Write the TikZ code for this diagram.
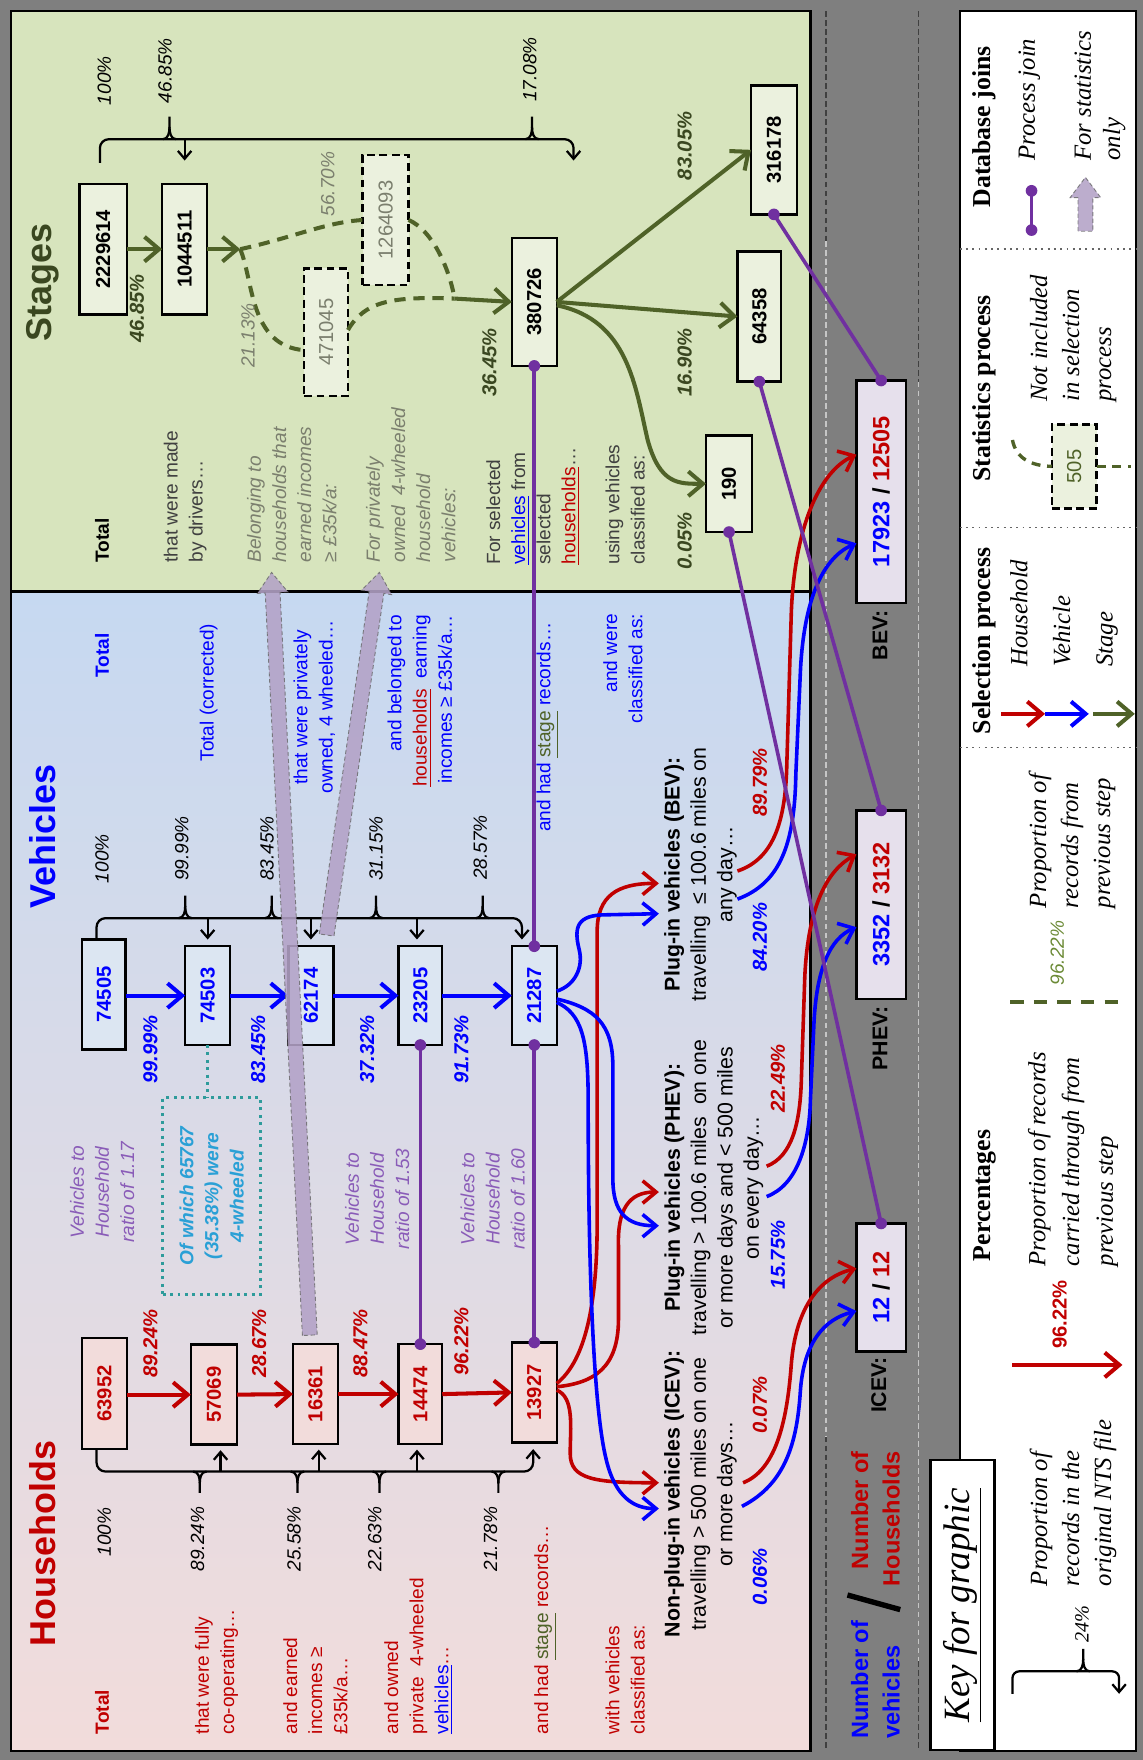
\documentclass[tikz,border=0pt]{standalone}
\usepackage{graphicx}
\usepackage{fontspec}
\setmainfont{Liberation Sans}
\newfontfamily\keyserif{Liberation Serif}
\usetikzlibrary{arrows.meta,calc}

% colours
\definecolor{framegray}{HTML}{7F7F7F}
\definecolor{stagebg}{HTML}{D7E4BD}
\definecolor{stagebox}{HTML}{EBF1DE}
\definecolor{stgreen}{HTML}{4F6228}
\definecolor{stdark}{HTML}{3A4720}
\definecolor{stgray}{HTML}{7B7F6E}
\definecolor{txtgray}{HTML}{404040}
\definecolor{vehtop}{HTML}{C6D9F1}
\definecolor{vehmid}{HTML}{E2DEEC}
\definecolor{hhbottom}{HTML}{F2DCDB}
\definecolor{vehbox}{HTML}{DCE6F2}
\definecolor{hhbox}{HTML}{F2DCDB}
\definecolor{hhred}{HTML}{C00000}
\definecolor{vblue}{HTML}{0000FF}
\definecolor{joinpurple}{HTML}{7030A0}
\definecolor{statpurple}{HTML}{B3A2C7}
\definecolor{ratiopurple}{HTML}{8A5CB8}
\definecolor{tealedge}{HTML}{2E9B9B}
\definecolor{tealtext}{HTML}{2AA0D6}
\definecolor{classbox}{HTML}{E6E0EC}
\definecolor{keygreen}{HTML}{6B8A35}

% type sizes
\newcommand\desc{\fontsize{8.5}{11.2}\selectfont}
\newcommand\ttl{\fontsize{16}{18}\selectfont\bfseries}
\newcommand\boxnum{\fontsize{9}{10}\selectfont\bfseries}
\newcommand\cls{\fontsize{9.5}{11.75}\selectfont}
\newcommand\bignum{\fontsize{10.5}{12}\selectfont\bfseries}
\newcommand\keytxt{\keyserif\itshape\fontsize{11}{14.25}\selectfont}
\newcommand\keyhead{\keyserif\bfseries\fontsize{11.5}{13}\selectfont}

\tikzset{
  ttlnode/.style={rotate=90, font=\ttl},
  dtext/.style={rotate=90, font=\desc, align=left},
  pct/.style={rotate=90, font=\desc\itshape},
  bpct/.style={rotate=90, font=\fontsize{9}{10}\selectfont\bfseries\itshape},
  bx/.style 2 args={minimum width=#1, minimum height=#2, draw=black, line width=1.1pt},
  sbox/.style={fill=stagebox, font=\boxnum},
  dbox/.style={fill=stagebox, dash pattern=on 3.5pt off 2pt, font=\fontsize{9}{10}\selectfont, text=stgray},
  vbox/.style={fill=vehbox, font=\boxnum, text=vblue},
  hbox/.style={fill=hhbox, font=\boxnum, text=hhred},
  cbox/.style={fill=classbox, font=\bignum},
  bracel/.style={draw=black, line width=1pt},
  bracetip/.style={bracel, -{Straight Barb[length=3.5pt,width=6pt]}},
  garrow/.style={draw=stgreen, line width=1.8pt, -{Straight Barb[length=6.5pt,width=11pt]}},
  gdash/.style={draw=stgreen, line width=1.8pt, dash pattern=on 5pt off 3.5pt},
  barrow/.style={draw=vblue, line width=1.8pt, -{Straight Barb[length=6.5pt,width=11pt]}},
  rarrow/.style={draw=hhred, line width=1.8pt, -{Straight Barb[length=6.5pt,width=11pt]}},
  bcurve/.style={draw=vblue, line width=1.6pt, -{Straight Barb[length=6pt,width=10pt]}},
  rcurve/.style={draw=hhred, line width=1.6pt, -{Straight Barb[length=6pt,width=10pt]}},
  joinline/.style={draw=joinpurple, line width=1.6pt},
  statarrow/.style={fill=statpurple, fill opacity=0.88, draw=black!60, draw opacity=0.8, line width=0.4pt, dash pattern=on 1.8pt off 1.2pt},
  stripdark/.style={draw=black!75, line width=0.6pt, dash pattern=on 2.5pt off 1.5pt},
  striplight/.style={draw=gray!45, line width=0.6pt, dash pattern=on 2.5pt off 1.5pt},
}

% broad "for statistics" arrow from #1 to #2
\newcommand\fatarrow[2]{%
  \coordinate (fa-base) at ($(#2)!9pt!(#1)$);
  \draw[statarrow] ($(#1)!3.3pt!90:(#2)$) -- ($(fa-base)!3.3pt!-90:(#1)$)
    -- ($(fa-base)!6.8pt!-90:(#1)$) -- (#2) -- ($(fa-base)!6.8pt!90:(#1)$)
    -- ($(fa-base)!3.3pt!90:(#1)$) -- ($(#1)!3.3pt!-90:(#2)$) -- cycle;}

% small cusp on a brace line: x, y of the line, signed stem length
\newcommand\cusp[3]{%
  \draw[bracel] (#1-6,#2) .. controls (#1-1,#2) and (#1,{#2+0.3*(#3)}) .. (#1,{#2+0.55*(#3)}) -- (#1,{#2+(#3)});
  \draw[bracel] (#1+6,#2) .. controls (#1+1,#2) and (#1,{#2+0.3*(#3)}) .. (#1,{#2+0.55*(#3)});}

\begin{document}
\begin{tikzpicture}[x=0.5pt, y=-0.5pt, every node/.style={inner sep=0pt, outer sep=0pt}]
\useasboundingbox (0,0) rectangle (1018,1568);

% ---------- backgrounds ----------
\fill[framegray] (0,0) rectangle (1018,1568);
\filldraw[fill=stagebg, draw=black, line width=1pt] (10,10) rectangle (722,527);
\shade[top color=vehtop, middle color=vehmid, bottom color=hhbottom] (10,527) rectangle (722,1560);
\draw[black, line width=1pt] (10,527) rectangle (722,1560);
\filldraw[fill=white, draw=black, line width=1pt] (855,10) rectangle (1012,1560);

% dashed guides in the grey strip
\draw[stripdark] (736,10) -- (736,215);
\draw[striplight] (736,215) -- (736,1280);
\draw[stripdark] (736,1280) -- (736,1560);
\draw[stripdark] (818,10) -- (818,340);
\draw[striplight] (818,340) -- (818,1480);
\draw[stripdark] (818,1480) -- (818,1560);

% key separators
\draw[black!60, line width=0.8pt, dotted] (855,222) -- (1012,222);
\draw[black!60, line width=0.8pt, dotted] (855,470) -- (1012,470);
\draw[black!60, line width=0.8pt, dotted] (855,666) -- (1012,666);

% ---------- titles ----------
\node[ttlnode, text=stdark] (tStages) at (38,252) {Stages};
\node[ttlnode, text=vblue] (tVeh) at (38,745) {Vehicles};
\node[ttlnode, text=hhred] (tHH) at (38,1375) {Households};

% ---------- stage boxes ----------
\node[bx={21pt}{58pt}, sbox] (s1) at (92,222) {\rotatebox{90}{2229614}};
\node[bx={20pt}{58pt}, sbox] (s2) at (164.5,222) {\rotatebox{90}{1044511}};
\node[bx={20.5pt}{58pt}, dbox] (d1) at (343.5,196) {\rotatebox{90}{1264093}};
\node[bx={19.5pt}{57pt}, dbox] (d2) at (290.5,296) {\rotatebox{90}{471045}};
\node[bx={20pt}{57pt}, sbox] (s5) at (476,269) {\rotatebox{90}{380726}};
\node[bx={19.5pt}{58pt}, sbox] (s6) at (676.5,282) {\rotatebox{90}{64358}};
\node[bx={20.5pt}{57.5pt}, sbox] (s7) at (689.5,133.5) {\rotatebox{90}{316178}};
\node[bx={20.5pt}{43pt}, sbox] (s8) at (649.5,431) {\rotatebox{90}{190}};

% ---------- vehicle boxes ----------
\node[bx={19.5pt}{49pt}, vbox] (v1) at (92.5,886) {\rotatebox{90}{74505}};
\node[bx={20pt}{44pt}, vbox] (v2) at (185,887) {\rotatebox{90}{74503}};
\node[bx={20pt}{44pt}, vbox] (v3) at (277,887) {\rotatebox{90}{62174}};
\node[bx={19.5pt}{44pt}, vbox] (v4) at (374.5,887) {\rotatebox{90}{23205}};
\node[bx={20pt}{44pt}, vbox] (v5) at (476,887) {\rotatebox{90}{21287}};

% ---------- household boxes ----------
\node[bx={20pt}{49.5pt}, hbox] (h1) at (93,1241.5) {\rotatebox{90}{63952}};
\node[bx={20.5pt}{44.5pt}, hbox] (h2) at (190.5,1242.5) {\rotatebox{90}{57069}};
\node[bx={20pt}{44.5pt}, hbox] (h3) at (281,1242) {\rotatebox{90}{16361}};
\node[bx={19.5pt}{44.5pt}, hbox] (h4) at (374.5,1242) {\rotatebox{90}{14474}};
\node[bx={20pt}{44.5pt}, hbox] (h5) at (476,1240.5) {\rotatebox{90}{13927}};

% ---------- vehicle classes (grey strip) ----------
\node[bx={22pt}{57pt}, cbox] (icev) at (785,1147) {\rotatebox{90}{\textcolor{vblue}{12} / \textcolor{hhred}{12}}};
\node[bx={22pt}{84pt}, cbox] (phev) at (785,806) {\rotatebox{90}{\textcolor{vblue}{3352} / \textcolor{hhred}{3132}}};
\node[bx={22pt}{99pt}, cbox] (bev) at (785,438) {\rotatebox{90}{\textcolor{vblue}{17923} / \textcolor{hhred}{12505}}};
\node[rotate=90, font=\fontsize{9.5}{11}\selectfont\bfseries] (lI) at (783,1234) {ICEV:};
\node[rotate=90, font=\fontsize{9.5}{11}\selectfont\bfseries] (lP) at (784,925) {PHEV:};
\node[rotate=90, font=\fontsize{9.5}{11}\selectfont\bfseries] (lB) at (784,566) {BEV:};
\node[rotate=90, font=\fontsize{10.5}{14}\selectfont\bfseries, text=vblue, align=left, anchor=west] (nv) at (780,1549) {Number of\\vehicles};
\node[rotate=90, font=\fontsize{10.5}{14}\selectfont\bfseries, text=hhred, align=right, anchor=east] (nh) at (780,1293) {Number of\\Households};
\coordinate (sl1) at (755,1421);
\coordinate (sl2) at (802,1434);
\draw[line width=2.4pt] (sl1) -- (sl2);

% ---------- braces ----------
\coordinate (sbr) at (0,124);
\draw[bracetip, rounded corners=4pt] (89,145) -- (89,124) -- (511,124) -- (511,143);
\draw[bracetip] (s2.north |- sbr) -- ($(s2.north)+(0,-21)$);
\cusp{151}{124}{-20}
\cusp{474}{124}{-20}

\draw[bracetip, rounded corners=4pt] (86,836) -- (86,818) -- (465,818) -- (465,837);
\draw[bracetip] ($(v2.north)+(0,-25)$) -- ($(v2.north)+(0,-6)$);
\draw[bracetip] ($(v3.north)+(0,-25)$) -- ($(v3.north)+(0,-6)$);
\draw[bracetip] ($(v4.north)+(-3,-25)$) -- ($(v4.north)+(-3,-6)$);
\cusp{165}{818}{-20}
\cusp{242}{818}{-20}
\cusp{335}{818}{-20}
\cusp{430}{818}{-20}

\draw[bracetip, rounded corners=4pt] (86,1292) -- (86,1311) -- (475,1311) -- (475,1291);
\draw[bracetip] ($(h2.south)+(6,24)$) -- ($(h2.south)+(6,5)$);
\draw[bracetip] ($(h3.south)+(3,24)$) -- ($(h3.south)+(3,5)$);
\draw[bracetip] ($(h4.south)+(-3,24)$) -- ($(h4.south)+(-3,5)$);
\cusp{178}{1311}{19}
\cusp{265}{1311}{19}
\cusp{338}{1311}{19}
\cusp{444}{1311}{19}

% ---------- stage flow ----------
\draw[garrow] (s1.east) -- (s2.west);
\coordinate (fork) at (214,222);
\coordinate (merge) at (405,266);
\draw[garrow] (s2.east) -- (fork);
\draw[gdash] (fork) .. controls (260,212) and (290,198) .. (d1.west);
\draw[gdash] (fork) .. controls (226,250) and (222,308) .. ($(d2.west)+(0,16)$);
\draw[gdash] ($(d2.east)+(0,-2)$) .. controls (325,268) and (350,264) .. (merge);
\draw[gdash] (d1.east) .. controls (385,205) and (400,238) .. (merge);
\draw[garrow] (merge) -- (s5.west);
\draw[garrow] (s5.east) -- (s7.west);
\draw[garrow] (s5.east) -- (s6.west);
\draw[garrow] ($(s5.east)+(0,3)$) .. controls (560,285) and (566,345) .. (577,392) .. controls (588,432) and (605,431) .. (s8.west);

% ---------- vehicle and household flow ----------
\draw[barrow] (v1.east |- v2) -- (v2.west);
\draw[barrow] (v2.east) -- (v3.west);
\draw[barrow] (v3.east) -- (v4.west);
\draw[barrow] (v4.east) -- (v5.west);
\draw[rarrow] (h1.east |- h2) -- (h2.west);
\draw[rarrow] (h2.east) -- (h3.west);
\draw[rarrow] (h3.east) -- (h4.west);
\draw[rarrow] (h4.east) -- (h5.west);

% teal note on 4-wheeled vehicles
\node[draw=tealedge, line width=1.3pt, dotted, minimum width=43.5pt, minimum height=87.5pt] (teal) at (188.5,1065.5) {};
\node[rotate=90, align=center, font=\desc\bfseries\itshape, text=tealtext] (tealtxt) at (teal.center) {Of which 65767\\(35.38\%) were\\4-wheeled};
\draw[draw=tealedge, line width=1.3pt, dotted] (v2.south) -- (v2.south |- teal.north);

% ---------- stage text ----------
\node[dtext, font=\desc\bfseries, anchor=west] (tS0) at (91,501) {Total};
\node[dtext, text=txtgray, anchor=west] (tS1) at (165,501) {that were made\\by drivers\ldots};
\node[dtext, font=\desc\itshape, text=stgray, anchor=west] (tS2) at (260,501) {Belonging to\\households that\\earned incomes\\≥ £35k/a:};
\node[dtext, font=\desc\itshape, text=stgray, anchor=west] (tS3) at (366,501) {For privately\\owned\ \ 4-wheeled\\household\\vehicles:};
\node[dtext, text=txtgray, anchor=west] (tS4) at (475,503) {For selected\\\textcolor{vblue}{\underline{vehicles}} from\\selected\\\textcolor{hhred}{\underline{households}}\ldots};
\node[dtext, text=txtgray, anchor=west] (tS5) at (557,503) {using vehicles\\classified as:};

\node[pct] (ps1) at (93,72) {100\%};
\node[pct] (ps2) at (147,63) {46.85\%};
\node[pct] (ps3) at (472,62) {17.08\%};
\node[bpct, text=stdark] (ps4) at (122,275) {46.85\%};
\node[pct, text=stgray] (ps5) at (221,299) {21.13\%};
\node[pct, text=stgray] (ps6) at (292,164) {56.70\%};
\node[bpct, text=stdark] (ps7) at (436,323) {36.45\%};
\node[bpct, text=stdark] (ps8) at (610,130) {83.05\%};
\node[bpct, text=stdark] (ps9) at (610,323) {16.90\%};
\node[bpct, text=stdark] (ps10) at (610,482) {0.05\%};

% ---------- vehicle text ----------
\node[rotate=90, font=\desc\bfseries, text=vblue] (tV0) at (91,584) {Total};
\node[rotate=90, font=\desc, text=vblue] (tV1) at (186,617) {Total (corrected)};
\node[rotate=90, font=\desc, text=vblue, align=center] (tV2) at (280,630) {that were privately\\owned, 4 wheeled\ldots};
\node[rotate=90, font=\desc, text=vblue, align=right, anchor=east] (tV3) at (374,548) {and belonged to\\\textcolor{hhred}{\underline{households}}\ \ earning\\incomes ≥ £35k/a\ldots};
\node[rotate=90, font=\desc, text=vblue] (tV4) at (488,648) {and had \textcolor{stgreen}{\underline{stage}} records\ldots};
\node[rotate=90, font=\desc, text=vblue, align=right, anchor=east] (tV5) at (555,547) {and were\\classified as:};

\node[pct] (pv1) at (91,765) {100\%};
\node[pct] (pv2) at (162,756) {99.99\%};
\node[pct] (pv3) at (238,756) {83.45\%};
\node[pct] (pv4) at (335,756) {31.15\%};
\node[pct] (pv5) at (428,755) {28.57\%};
\node[bpct, text=vblue] (pv6) at (134,935) {99.99\%};
\node[bpct, text=vblue] (pv7) at (230,935) {83.45\%};
\node[bpct, text=vblue] (pv8) at (327,935) {37.32\%};
\node[bpct, text=vblue] (pv9) at (411,935) {91.73\%};

\node[rotate=90, font=\desc\itshape, text=ratiopurple, align=center] (r1) at (91,1062) {Vehicles to\\Household\\ratio of 1.17};
\node[rotate=90, font=\desc\itshape, text=ratiopurple, align=center] (r2) at (336,1068) {Vehicles to\\Household\\ratio of 1.53};
\node[rotate=90, font=\desc\itshape, text=ratiopurple, align=center] (r3) at (439,1068) {Vehicles to\\Household\\ratio of 1.60};

% ---------- household text ----------
\node[dtext, font=\desc\bfseries, text=hhred, anchor=west] (tH0) at (91,1545) {Total};
\node[dtext, text=hhred, anchor=west] (tH1) at (193,1545) {that were fully\\co-operating\ldots};
\node[dtext, text=hhred, anchor=west] (tH2) at (281,1545) {and earned\\incomes ≥\\£35k/a\ldots};
\node[dtext, text=hhred, anchor=west] (tH3) at (373,1545) {and owned\\private\ \ 4-wheeled\\\textcolor{vblue}{\underline{vehicles}}\ldots};
\node[dtext, text=hhred, anchor=west] (tH4) at (486,1545) {and had \textcolor{stgreen}{\underline{stage}} records\ldots};
\node[dtext, text=hhred, anchor=west] (tH5) at (557,1545) {with vehicles\\classified as:};

\node[pct] (ph1) at (93,1365) {100\%};
\node[pct] (ph2) at (176,1371) {89.24\%};
\node[pct] (ph3) at (262,1371) {25.58\%};
\node[pct] (ph4) at (334,1371) {22.63\%};
\node[pct] (ph5) at (437,1371) {21.78\%};
\node[bpct, text=hhred] (ph6) at (134,1197) {89.24\%};
\node[bpct, text=hhred] (ph7) at (231,1197) {28.67\%};
\node[bpct, text=hhred] (ph8) at (321,1197) {88.47\%};
\node[bpct, text=hhred] (ph9) at (411,1195) {96.22\%};

% ---------- class headings ----------
\node[rotate=90, font=\cls, align=center] (cI) at (624,1331) {\textbf{Non-plug-in vehicles (ICEV):}\\travelling > 500 miles on one\\or more days\ldots};
\node[rotate=90, font=\cls, align=center] (cP) at (636,1058) {\textbf{Plug-in vehicles (PHEV):}\\travelling > 100.6 miles\ \ on one\\or more days and < 500 miles\\on every day\ldots};
\node[rotate=90, font=\cls, align=center] (cB) at (624,779) {\textbf{Plug-in vehicles (BEV):}\\travelling\ \ ≤ 100.6 miles on\\any day\ldots};

\node[bpct, text=hhred] (l1) at (677,1252) {0.07\%};
\node[bpct, text=vblue] (l2) at (677,1405) {0.06\%};
\node[bpct, text=hhred] (l3) at (693,961) {22.49\%};
\node[bpct, text=vblue] (l4) at (693,1118) {15.75\%};
\node[bpct, text=hhred] (l5) at (677,697) {89.79\%};
\node[bpct, text=vblue] (l6) at (677,835) {84.20\%};

% ---------- statistics-only joins ----------
\coordinate (fa1s) at ($(h3.north)+(-5,-8)$);
\coordinate (fa1e) at (242,510);
\fatarrow{fa1s}{fa1e}
\coordinate (fa2s) at ($(v3.north)+(14,-10)$);
\coordinate (fa2e) at (338,510);
\fatarrow{fa2s}{fa2e}

% ---------- classification curves ----------
\coordinate (icevR) at (587,1321);
\coordinate (icevB) at (587,1344);
\coordinate (phevR) at (587,1062);
\coordinate (phevB) at (587,1092);
\coordinate (bevR) at (587,787);
\coordinate (bevB) at (587,814);
\coordinate (icevRo) at (662,1321);
\coordinate (icevBo) at (661,1342);
\coordinate (phevRo) at (683,1039);
\coordinate (phevBo) at (683,1066);
\coordinate (bevRo) at (657,776);
\coordinate (bevBo) at (657,801);

\draw[rcurve] ($(h5.east)+(0,-2)$) .. controls (512,1245) and (508,1272) .. (508,1295) .. controls (508,1318) and (530,1321) .. (icevR);
\draw[rcurve] ($(h5.east)+(0,-5)$) .. controls (530,1232) and (551,1218) .. (551,1175) -- (551,1110) .. controls (550,1078) and (560,1062) .. (phevR);
\draw[rcurve] ($(h5.east)+(0,-8)$) .. controls (522,1212) and (532,1160) .. (532,1090) -- (532,830) .. controls (532,798) and (550,787) .. (bevR);
\draw[bcurve] ($(v5.east)+(0,-4)$) .. controls (512,878) and (520,862) .. (516,846) .. controls (511,826) and (514,815) .. (540,815) -- (bevB);
\draw[bcurve] ($(v5.east)+(0,3)$) .. controls (530,898) and (546,912) .. (546,950) -- (546,1050) .. controls (546,1080) and (558,1092) .. (phevB);
\draw[bcurve] ($(v5.east)+(0,6)$) .. controls (518,903) and (524,925) .. (524,980) .. controls (524,1150) and (530,1260) .. (540,1300) .. controls (548,1334) and (565,1344) .. (icevB);

\draw[rcurve] (icevRo) .. controls (690,1310) and (701,1270) .. (705,1215) .. controls (709,1165) and (730,1138) .. ($(icev.west)+(0,-17)$);
\draw[bcurve] (icevBo) .. controls (700,1322) and (710,1285) .. (713,1240) .. controls (716,1195) and (735,1175) .. ($(icev.west)+(0,21)$);
\draw[rcurve] (phevRo) .. controls (706,1030) and (713,1000) .. (714,960) -- (717,870) .. controls (720,805) and (738,775) .. ($(phev.west)+(0,-45)$);
\draw[bcurve] (phevBo) .. controls (710,1056) and (721,1020) .. (722,980) -- (725,915) .. controls (727,862) and (740,836) .. ($(phev.west)+(0,20)$);
\draw[rcurve] (bevRo) .. controls (690,765) and (700,730) .. (701,680) -- (705,545) .. controls (708,470) and (730,420) .. ($(bev.west)+(0,-33)$);
\draw[bcurve] (bevBo) .. controls (695,787) and (708,752) .. (709,690) -- (713,600) .. controls (716,530) and (735,496) .. ($(bev.west)+(0,46)$);

% ---------- process joins ----------
\draw[joinline] (s5.south) -- (v5.north);
\draw[joinline] (v5.south) -- (h5.north);
\draw[joinline] (v4.south) -- (h4.north);
\draw[joinline] (s6.south) -- (phev.north);
\draw[joinline] (s7.south) -- (bev.north);
\draw[joinline] (s8.south) -- (icev.north);
\foreach \p in {s5.south, v5.north, v5.south, h5.north, v4.south, h4.north, s6.south, phev.north, s7.south, bev.north, s8.south, icev.north}
  \fill[joinpurple] (\p) circle (2.6pt);

% ---------- key ----------
\node[rotate=90, font=\keyhead] (kh1) at (877,113) {Database joins};
\node[rotate=90, font=\keytxt, anchor=west] (kt1) at (917,143) {Process join};
\node[rotate=90, font=\keyserif\itshape\fontsize{11}{13}\selectfont, align=left, anchor=west] (kt2) at (980,143) {For statistics\\only};
\coordinate (kd1) at (919,170);
\coordinate (kd2) at (919,205);
\draw[joinline] (kd1) -- (kd2);
\fill[joinpurple] (kd1) circle (2.6pt);
\fill[joinpurple] (kd2) circle (2.6pt);
\coordinate (ka1) at (967,206);
\coordinate (ka2) at (967,158);
\fatarrow{ka1}{ka2}

\node[rotate=90, font=\keyhead] (kh2) at (877,346) {Statistics process};
\node[rotate=90, font=\keytxt, align=left, anchor=west] (kt3) at (956,358) {Not included\\in selection\\process};
\node[bx={20pt}{37.5pt}, dbox, text=stgreen] (k505) at (957,415.5) {\rotatebox{90}{505}};
\coordinate (kst) at (902,392);
\coordinate (kend) at (1008,415.5);
\draw[gdash, line width=1.5pt, dash pattern=on 4pt off 3pt] (kst) .. controls (905,408) and (918,415) .. (k505.west);
\draw[gdash, line width=1.5pt, dash pattern=on 4pt off 3pt] (k505.east) -- (kend);

\node[rotate=90, font=\keyhead] (kh3) at (877,571) {Selection process};
\node[rotate=90, font=\keyserif\itshape\fontsize{11}{19}\selectfont, align=left, anchor=west] (kt4) at (948,594) {Household\\Vehicle\\Stage};
\coordinate (ks1) at (892,636);
\coordinate (ks2) at (931,636);
\coordinate (ks3) at (970,636);
\coordinate (ks4) at (974,636);
\coordinate (ks5) at (1011,636);
\draw[rarrow] (ks1) -- (ks2);
\draw[barrow] (ks2) -- (ks3);
\draw[garrow] (ks4) -- (ks5);

\node[rotate=90, font=\keyhead] (kh4) at (877,1065) {Percentages};
\coordinate (kg1) at (900,893);
\coordinate (kg2) at (1002,893);
\draw[gdash, dash pattern=on 6pt off 4.5pt] (kg1) -- (kg2);
\node[rotate=90, font=\desc\itshape, text=keygreen] (kp1) at (942,849) {96.22\%};
\node[rotate=90, font=\keytxt, align=left, anchor=west] (kt5) at (955,809) {Proportion of\\records from\\previous step};

\coordinate (kr1) at (902,1216);
\coordinate (kr2) at (1000,1216);
\draw[rarrow] (kr1) -- (kr2);
\node[rotate=90, font=\fontsize{9}{10}\selectfont\bfseries, text=hhred] (kp2) at (944,1171) {96.22\%};
\node[rotate=90, font=\keyserif\itshape\fontsize{11}{15}\selectfont, align=left, anchor=west] (kt6) at (956,1128) {Proportion of records\\carried through from\\previous step};

\draw[bracetip, rounded corners=3pt] (902,1509) -- (902,1489) -- (997,1489) -- (997,1509);
\cusp{965}{1489}{-20}
\node[rotate=90, font=\keyserif\itshape\fontsize{9}{10}\selectfont] (kp3) at (964,1447) {24\%};
\node[rotate=90, font=\keytxt, align=left, anchor=west] (kt7) at (956,1413) {Proportion of\\records in the\\original NTS file};

\node[draw=black, line width=1pt, fill=white, minimum width=28.5pt, minimum height=129pt] (keybox) at (857.5,1430) {};
\node[rotate=90, font=\keyserif\itshape\fontsize{16.5}{18}\selectfont] (keyttl) at (keybox.center) {\underline{Key for graphic}};

\end{tikzpicture}
\end{document}
